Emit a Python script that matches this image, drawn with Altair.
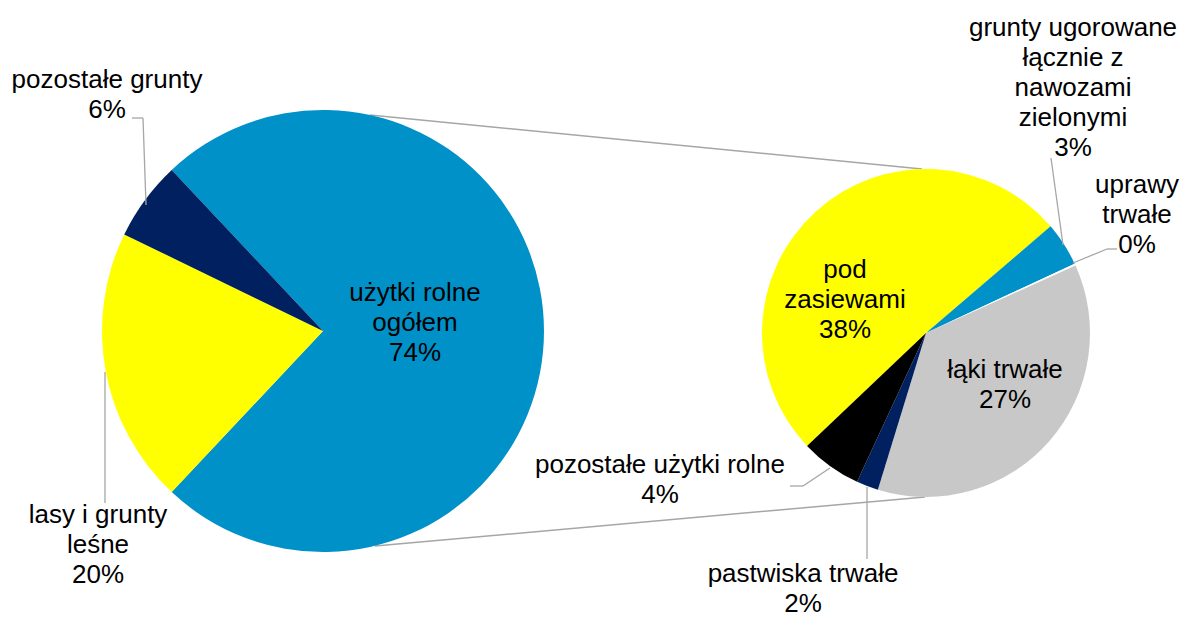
import math
import altair as alt
import pandas as pd

# ---- data ----
main_cats = ["użytki rolne\nogółem", "lasy i grunty\nleśne", "pozostałe grunty"]
main_vals = [74.0, 20.2, 5.8]
sub_cats = ["pod\nzasiewami", "grunty ugorowane\nłącznie z\nnawozami\nzielonymi",
            "uprawy\ntrwałe", "łąki trwałe", "pastwiska trwałe", "pozostałe użytki rolne"]
sub_vals = [37.6, 3.2, 0.15, 27.0, 1.6, 4.45]

# ---- styles / layout ----
main_colors = ["#0091C8", "#FFFF00", "#002060"]
sub_colors = ["#FFFF00", "#0091C8", "#FFFFFF", "#C8C8C8", "#002060", "#000000"]
OFF = 8
W, H = 1172, 610
L_CX, L_CY, L_R = 323, 331, 221
R_CX, R_CY, R_R = 926, 333, 164
L_START = math.pi / 2 - math.pi * main_vals[0] / sum(main_vals)
R_START = math.radians(226.5)
# (x centre, y of first line)
main_label_pos = [(415, 293), (98, 515), (107, 80)]
sub_label_pos = [(845, 270), (1073, 28), (1137, 185), (1005, 370), (803, 574), (660, 465)]
leader_segs = [
    ((132, 118), (143, 118)), ((143, 118), (146, 205)),
    ((105, 372), (105, 503)),
    ((1051, 158), (1063, 245)),
    ((1117, 249), (1107, 249)), ((1107, 249), (1073, 263)),
    ((790, 486), (803, 486)), ((803, 486), (830, 468)),
    ((867, 487), (867, 559)),
]
connector_segs = [((370, 115), (922, 169)), ((375, 546), (925, 497))]

main_df = pd.DataFrame({"cat": main_cats, "value": main_vals, "ord": range(len(main_cats))})
sub_df = pd.DataFrame({"cat": sub_cats, "value": sub_vals, "ord": range(len(sub_cats))})


def pie(df, cx, cy, r, start, colors):
    return alt.Chart(df).mark_arc(outerRadius=r, x=cx - OFF, y=cy - OFF).encode(
        theta=alt.Theta("value:Q", stack=True,
                        scale=alt.Scale(range=[start, start + 2 * math.pi], nice=False, zero=True)),
        color=alt.Color("cat:N", scale=alt.Scale(domain=list(df["cat"]), range=colors), legend=None),
        order=alt.Order("ord:Q"),
    )


left = pie(main_df, L_CX, L_CY, L_R, L_START, main_colors)
right = pie(sub_df, R_CX, R_CY, R_R, R_START, sub_colors)

labels = []
for cats, vals, pos in [(main_cats, main_vals, main_label_pos), (sub_cats, sub_vals, sub_label_pos)]:
    for c, v, (px, py) in zip(cats, vals, pos):
        labels.append({"label": f"{c}\n{round(v):.0f}%", "x": px - OFF, "y": py - OFF})
labels_df = pd.DataFrame(labels)


def seg_df(segs):
    return pd.DataFrame([{"x": a[0] - OFF, "y": a[1] - OFF, "x2": b[0] - OFF, "y2": b[1] - OFF}
                         for a, b in segs])


def rules(df, width):
    return alt.Chart(df).mark_rule(color="#A6A6A6", strokeWidth=width).encode(
        x=alt.X("x:Q", scale=None, axis=None),
        y=alt.Y("y:Q", scale=None, axis=None),
        x2="x2:Q",
        y2="y2:Q",
    )


connectors = rules(seg_df(connector_segs), 1.5)
leaders = rules(seg_df(leader_segs), 1.3)

texts = alt.Chart(labels_df).mark_text(
    font="Liberation Sans", fontSize=26, lineBreak="\n", lineHeight=30,
    align="center", baseline="middle", color="#000000"
).encode(
    x=alt.X("x:Q", scale=None, axis=None),
    y=alt.Y("y:Q", scale=None, axis=None),
    text="label:N",
)

chart = alt.layer(connectors, left, right, leaders, texts).resolve_scale(
    theta="independent", color="independent"
).properties(
    width=W, height=H, autosize=alt.AutoSizeParams(type="none"), padding=0
).configure_view(stroke=None)

chart.save("out.html", embed_options={"renderer": "svg", "actions": False})
